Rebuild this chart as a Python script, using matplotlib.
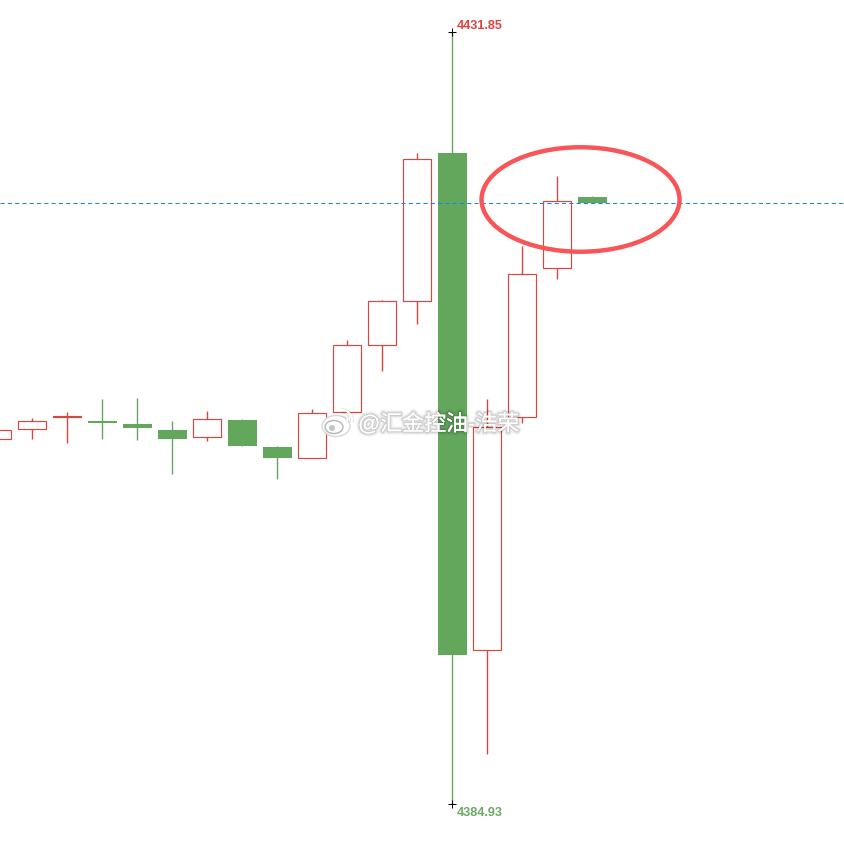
import numpy as np
import matplotlib.pyplot as plt
import matplotlib.patheffects as pe
from matplotlib.patches import Ellipse, Arc

plt.rcParams['font.family'] = ['Liberation Sans', 'Noto Sans CJK SC', 'DejaVu Sans']

# candles, left to right
opens = [4407.114, 4407.752, 4408.47, 4408.208, 4408.025, 4407.661, 4407.253, 4408.269, 4406.628,
         4405.977, 4408.737, 4412.809, 4415.483, 4424.496, 4394.29, 4408.433, 4417.49, 4421.822]
highs = [4407.661, 4408.39, 4408.755, 4409.545, 4409.606, 4408.208, 4408.816, 4408.33, 4406.689,
         4408.938, 4413.131, 4415.562, 4424.496, 4431.85, 4409.545, 4418.844, 4423.098, 4421.883]
lows = [4407.114, 4407.13, 4406.89, 4407.13, 4407.053, 4404.987, 4406.993, 4406.689, 4404.683,
        4405.929, 4408.737, 4411.265, 4414.103, 4384.93, 4387.97, 4408.105, 4416.857, 4421.439]
closes = [4407.661, 4408.238, 4408.50, 4408.086, 4407.782, 4407.114, 4408.311, 4406.689, 4405.96,
          4408.676, 4412.827, 4415.483, 4424.113, 4393.986, 4407.825, 4417.142, 4421.597, 4421.439]

last_price = 4421.44
max_price = 4431.85
min_price = 4384.93
max_idx = 13

RED = '#d9453f'
GREEN = '#62a75c'

fig = plt.figure(figsize=(8.44, 8.42), dpi=100)
ax = fig.add_axes([0, 0, 1, 1])
ax.set_xlim(2.9 / 35, 846.9 / 35)
ax.set_ylim(4382.621, 4433.795)
ax.axis('off')

x = np.arange(len(opens))
for i in x:
    up = closes[i] >= opens[i]
    col = RED if up else GREEN
    ax.vlines(i, lows[i], highs[i], color=col, lw=1.0, zorder=2)
    bottom = min(opens[i], closes[i])
    height = abs(closes[i] - opens[i])
    if up:
        ax.bar(i, height, width=0.8, bottom=bottom, facecolor='white', edgecolor=col, lw=0.85, zorder=3)
    else:
        ax.bar(i, height, width=0.83, bottom=bottom, color=col, lw=0, zorder=3)

ax.axhline(last_price, color='#1485ee', lw=0.75, dashes=(4, 3), zorder=4)

# highest / lowest marks on the big candle
ax.plot([max_idx, max_idx], [max_price, min_price], ls='none', marker='+', ms=5.5, mew=0.75, color='black', zorder=5)
ax.annotate('4431.85', (max_idx, max_price), xytext=(3.5, 0.2), textcoords='offset points',
            color='#e2403f', fontsize=9.1, fontweight='bold', va='bottom', ha='left')
ax.annotate('4384.93', (max_idx, min_price), xytext=(3.5, -2.3), textcoords='offset points',
            color='#6aaa64', fontsize=9.1, fontweight='bold', va='top', ha='left')

# red circle drawn over the last candles
ax.add_patch(Ellipse((16.67, 4421.67), 198 / 35, 104.5 * 46.92 / 772, fill=False,
                     edgecolor='#f95558', lw=3.2, zorder=6))

# watermark, placed in pixels
shadow = [pe.withStroke(linewidth=5, foreground=(0, 0, 0, 0.04)),
          pe.withStroke(linewidth=3, foreground=(0, 0, 0, 0.08)),
          pe.withStroke(linewidth=1.5, foreground=(0, 0, 0, 0.10))]
ax.text(358 / 844, 1 - 424.5 / 842, '@汇金控油-浩荣', transform=ax.transAxes, color='white', fontsize=15.8,
        ha='left', va='center', zorder=7, path_effects=shadow)

def wx(v):
    return v / 844
def wy(v):
    return 1 - v / 842
logo_pe = [pe.withStroke(linewidth=2.6, foreground=(0, 0, 0, 0.12))]
ax.add_patch(Ellipse((wx(336), wy(426)), 28 / 844, 21 / 842, transform=ax.transAxes, facecolor='white',
                     edgecolor='#d8d8d8', lw=1, zorder=7))
ax.add_patch(Ellipse((wx(334), wy(427)), 18 / 844, 13 / 842, transform=ax.transAxes, facecolor='white',
                     edgecolor='#b5b5b5', lw=1, zorder=7))
ax.add_patch(Ellipse((wx(332), wy(428)), 6 / 844, 6 / 842, transform=ax.transAxes, facecolor='#c4c4c4',
                     edgecolor='none', zorder=7))
ax.add_patch(Arc((wx(342), wy(420)), 20 / 844, 20 / 842, theta1=-15, theta2=90, transform=ax.transAxes,
                 edgecolor='white', lw=1.5, zorder=7, path_effects=logo_pe))
ax.add_patch(Arc((wx(342), wy(420)), 11 / 844, 11 / 842, theta1=-15, theta2=90, transform=ax.transAxes,
                 edgecolor='white', lw=1.3, zorder=7, path_effects=logo_pe))

fig.savefig('out.png', dpi=100, facecolor='white')
